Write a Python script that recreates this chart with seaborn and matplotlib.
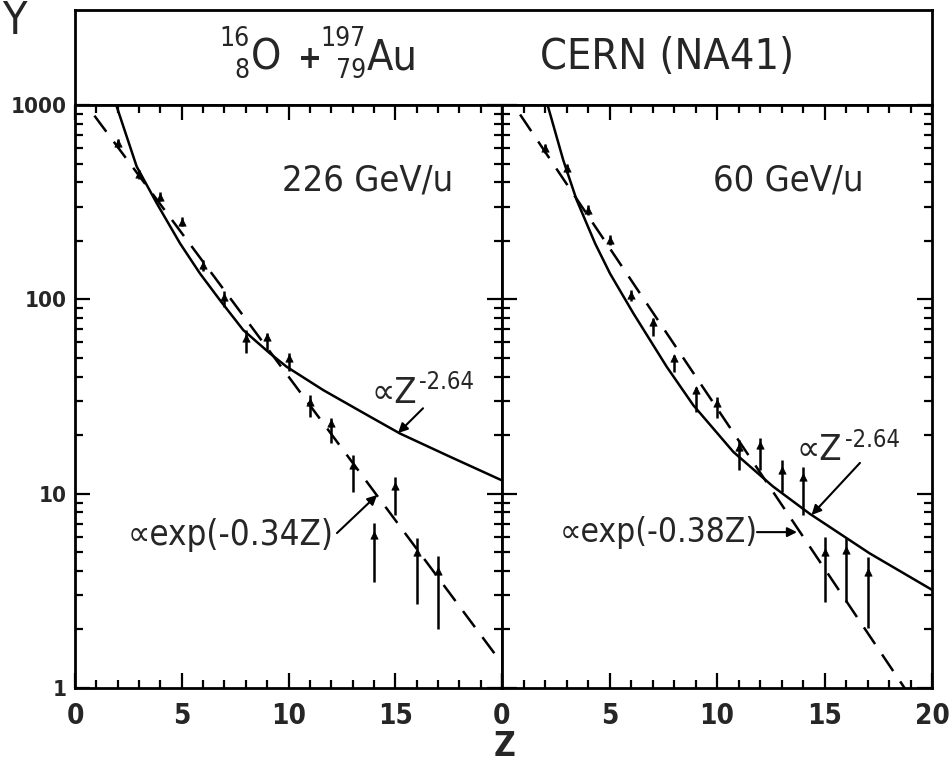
import numpy as np
import matplotlib
matplotlib.use("Agg")
import matplotlib.pyplot as plt
from matplotlib.ticker import MultipleLocator, NullFormatter
import seaborn as sns

# ---- data -------------------------------------------------------------
# 16O + 197Au, 226 GeV/u : fragment yield vs charge Z
z_226 = [2, 3, 4, 5, 6, 7, 8, 9, 10, 11, 12, 13, 14, 15, 16, 17]
y_226 = [635, 440, 337, 251, 150, 103, 63, 64, 50, 29.7, 23.1, 14.0, 6.1, 10.9, 5.0, 4.0]
lo_226 = [600, 415, 320, 238, 140, 91, 53, 55, 43, 24.8, 18.2, 10.2, 3.5, 7.8, 2.7, 2.0]
hi_226 = [670, 465, 355, 265, 160, 110, 69.5, 67, 53, 32.1, 24.5, 15.8, 7.06, 12.2, 5.9, 4.8]

# 16O + 197Au, 60 GeV/u
z_60 = [2, 3, 4, 5, 6, 7, 8, 9, 10, 11, 12, 13, 14, 15, 16, 17]
y_60 = [598, 472, 288, 202, 105, 76, 50, 34.1, 29.2, 17.4, 17.8, 13.2, 12.2, 5.0, 5.1, 3.96]
lo_60 = [565, 445, 272, 190, 98, 65, 42.3, 26.3, 24.5, 13.2, 13.2, 10.2, 7.8, 2.77, 2.77, 2.03]
hi_60 = [630, 500, 305, 215, 112, 80, 51.6, 35.4, 31.4, 18.9, 19.3, 14.9, 13.7, 6.0, 5.9, 4.7]

# power-law curves (solid)
zc_226 = [1.93, 2.89, 3.83, 4.92, 5.85, 6.79, 7.88, 9.13, 9.91, 11.63, 13.82, 15.22, 17.56, 20.0]
yc_226 = [1000, 482, 312, 194, 136, 99, 69.5, 52.7, 45, 34.1, 24.9, 20.4, 15.5, 11.7]
zc_60 = [2.12, 2.55, 2.85, 3.47, 4.33, 5.02, 6.11, 7.66, 8.9, 10.76, 12.6, 14.3, 17.1, 20.0]
yc_60 = [1000, 680, 520, 325, 194, 136, 84.7, 45, 28.5, 16.4, 10.9, 7.9, 4.93, 3.2]

# exponential fits (dashed): amplitude, slope
amp_226, slope_226 = 1200.0, 0.34
amp_60, slope_60 = 1230.0, 0.38
z_range = [0.0, 20.0]

ytick_vals = [1, 10, 100, 1000]
ytick_text = ["1", "10", "100", "1000"]
xtick_vals = [0, 5, 10, 15, 20]
xtick_left = ["0", "5", "10", "15", ""]
xtick_right = ["0", "5", "10", "15", "20"]

# ---- style ------------------------------------------------------------
sns.set_style("ticks")
plt.rcParams["font.family"] = ["DejaVu Sans"]
plt.rcParams["font.stretch"] = "condensed"
plt.rcParams["axes.linewidth"] = 2

W, H = 952, 764
fig = plt.figure(figsize=(W / 100, H / 100), dpi=100)


def rect(x0, y0, x1, y1):
    return [x0 / W, 1 - y1 / H, (x1 - x0) / W, (y1 - y0) / H]


def fx(x):
    return x / W


def fy(y):
    return 1 - y / H


ax_t = fig.add_axes(rect(75, 10, 932, 105))
axL = fig.add_axes(rect(75, 105, 502, 688))
axR = fig.add_axes(rect(502, 105, 932, 688))

ax_t.set_xticks([])
ax_t.set_yticks([])
for s in ax_t.spines.values():
    s.set_linewidth(2)
    s.set_color("black")


def panel(ax, zc, yc, amp, slope, z, y, lo, hi, xlabels, show_y):
    ax.set_yscale("log")
    ax.set_xlim(0, 20)
    ax.set_ylim(1, 1000)
    # solid power-law curve
    sns.lineplot(x=zc, y=yc, ax=ax, color="black", lw=1.8, sort=False,
                 estimator=None)
    # dashed exponential
    ye = [amp * np.exp(-slope * zz) for zz in z_range]
    sns.lineplot(x=z_range, y=ye, ax=ax, color="black", lw=1.8,
                 linestyle=(0, (8, 5)), estimator=None)
    # data points with error bars
    y_arr = np.array(y)
    ax.errorbar(z, y, yerr=[y_arr - np.array(lo), np.array(hi) - y_arr],
                fmt="none", ecolor="black", elinewidth=1.8, capsize=0)
    sns.scatterplot(x=z, y=y, ax=ax, marker="^", s=28, color="black",
                    edgecolor="black", linewidth=0.5, zorder=5)
    ax.xaxis.set_major_locator(MultipleLocator(5))
    ax.xaxis.set_minor_locator(MultipleLocator(1))
    ax.set_xticks(xtick_vals)
    ax.set_xticklabels(xlabels, fontsize=20, fontweight="bold")
    ax.set_yticks(ytick_vals)
    if show_y:
        ax.set_yticklabels(ytick_text, fontsize=16, fontweight="bold")
    else:
        ax.set_yticklabels([])
    ax.yaxis.set_minor_formatter(NullFormatter())
    ax.tick_params(which="both", direction="in", top=True, right=True,
                   width=1.6, color="black")
    ax.tick_params(which="major", length=11)
    ax.tick_params(axis="x", which="major", pad=10)
    ax.tick_params(axis="y", which="major", pad=6)
    ax.tick_params(which="minor", length=6)
    for s in ax.spines.values():
        s.set_linewidth(2)
        s.set_color("black")
    ax.set_xlabel("")
    ax.set_ylabel("")


panel(axL, zc_226, yc_226, amp_226, slope_226, z_226, y_226, lo_226, hi_226,
      xtick_left, True)
panel(axR, zc_60, yc_60, amp_60, slope_60, z_60, y_60, lo_60, hi_60,
      xtick_right, False)

# ---- panel annotations -----------------------------------------------
axL.text(0.686, 0.870, "226 GeV/u", transform=axL.transAxes, fontsize=26,
         ha="center", va="center")
axR.text(0.665, 0.870, "60 GeV/u", transform=axR.transAxes, fontsize=26,
         ha="center", va="center")

arrow = dict(arrowstyle="-|>", color="black", lw=1.5, mutation_scale=14,
             shrinkA=0, shrinkB=0)

# left panel
axL.annotate("", xy=(15.13, 20.5), xytext=(16.3, 27.5), arrowprops=arrow)
axL.text(13.9, 29.3, "\u221dZ", fontsize=26, ha="left", va="baseline")
axL.text(16.1, 34.5, "-2.64", fontsize=17, ha="left", va="baseline")
axL.annotate("", xy=(14.15, 9.84), xytext=(12.27, 6.27), arrowprops=arrow)
axL.text(2.45, 6.12, "\u221dexp(-0.34Z)", fontsize=25, ha="left",
         va="center")

# right panel
axR.annotate("", xy=(14.4, 7.77), xytext=(16.65, 14.4), arrowprops=arrow)
axR.text(13.72, 14.9, "\u221dZ", fontsize=26, ha="left", va="baseline")
axR.text(15.95, 17.4, "-2.64", fontsize=17, ha="left", va="baseline")
axR.annotate("", xy=(13.72, 6.34), xytext=(11.86, 6.34), arrowprops=arrow)
axR.text(2.7, 6.34, "\u221dexp(-0.38Z)", fontsize=24, ha="left",
         va="center")

# ---- title box --------------------------------------------------------
big, small = 31, 19
fig.text(fx(250), fy(39), "16", fontsize=small, ha="right", va="center")
fig.text(fx(250), fy(71), "8", fontsize=small, ha="right", va="center")
fig.text(fx(251), fy(57), "O", fontsize=big, ha="left", va="center")
fig.text(fx(310), fy(59), "+", fontsize=big - 8, fontweight="bold",
         ha="center", va="center")
fig.text(fx(366), fy(39), "197", fontsize=small, ha="right", va="center")
fig.text(fx(366), fy(71), "79", fontsize=small, ha="right", va="center")
fig.text(fx(367), fy(57), "Au", fontsize=big, ha="left", va="center")
fig.text(fx(540), fy(57), "CERN (NA41)", fontsize=big, ha="left",
         va="center")

# axis labels
fig.text(fx(14), fy(22), "Y", fontsize=32, ha="center", va="center")
fig.text(fx(505), fy(746), "Z", fontsize=24, fontweight="bold",
         ha="center", va="center")

fig.savefig("out.png", dpi=100, facecolor="white")
